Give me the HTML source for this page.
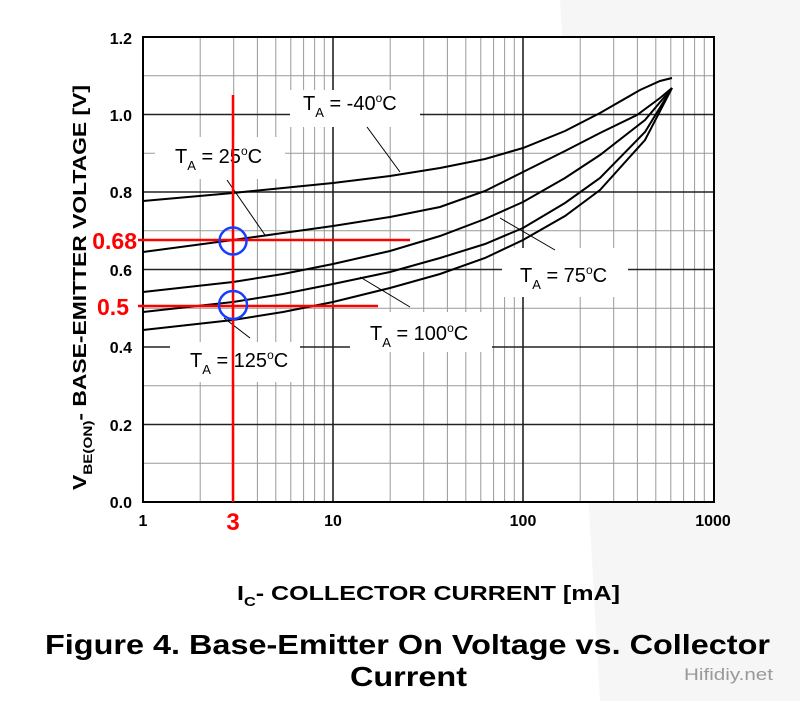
<!DOCTYPE html>
<html><head><meta charset="utf-8"><style>html,body{margin:0;padding:0;background:#fff}svg{display:block}</style></head><body>
<svg width="800" height="701" viewBox="0 0 800 701" xmlns="http://www.w3.org/2000/svg" font-family="Liberation Sans, Arial, sans-serif">
<rect width="800" height="701" fill="#fff"/>
<path d="M560 0 L800 0 L800 701 L600 701 Z" fill="#f6f6f6"/>
<rect x="143" y="37" width="571" height="465" fill="#fff"/>
<g stroke="#999" stroke-width="1">
<line x1="143" y1="75.75" x2="714" y2="75.75"/><line x1="143" y1="153.25" x2="714" y2="153.25"/><line x1="143" y1="230.75" x2="714" y2="230.75"/><line x1="143" y1="308.25" x2="714" y2="308.25"/><line x1="143" y1="385.75" x2="714" y2="385.75"/><line x1="143" y1="463.25" x2="714" y2="463.25"/>
<g id="dec"><line x1="200.2" y1="37" x2="200.2" y2="502"/><line x1="233.7" y1="37" x2="233.7" y2="502"/><line x1="257.4" y1="37" x2="257.4" y2="502"/><line x1="275.8" y1="37" x2="275.8" y2="502"/><line x1="290.8" y1="37" x2="290.8" y2="502"/><line x1="303.6" y1="37" x2="303.6" y2="502"/><line x1="314.6" y1="37" x2="314.6" y2="502"/><line x1="324.3" y1="37" x2="324.3" y2="502"/></g>
<use href="#dec" x="190"/><use href="#dec" x="380"/>
</g>
<g stroke="#222" stroke-width="1.6">
<line x1="143" y1="114.5" x2="714" y2="114.5"/><line x1="143" y1="192" x2="714" y2="192"/><line x1="143" y1="269.5" x2="714" y2="269.5"/><line x1="143" y1="347" x2="714" y2="347"/><line x1="143" y1="424.5" x2="714" y2="424.5"/>
<line x1="333" y1="37" x2="333" y2="502"/><line x1="523" y1="37" x2="523" y2="502"/>
</g>
<rect x="143" y="37" width="571" height="465" fill="none" stroke="#000" stroke-width="2"/>
<g fill="#fff">
<rect x="290" y="90" width="130" height="37"/>
<rect x="155" y="137" width="130" height="42"/>
<rect x="502" y="248" width="126" height="49"/>
<rect x="350" y="312" width="142" height="40"/>
<rect x="170" y="342" width="130" height="40"/>
</g>
<g fill="none" stroke="#000" stroke-width="2">
<polyline points="143,201 188,197 233,193 283,188 333,183 390,176 440,168 485,159 523,148 565,131 600,113 640,90 660,81 672,78"/>
<polyline points="143,252 188,246 233,240 283,233 333,226 390,217 440,207 485,191 523,172 565,151 600,133 637,115 660,98 672,88"/>
<polyline points="143,292 188,287 233,282 283,274 333,264 390,251 440,236 485,219 523,202 565,178 600,155 645,120 672,88"/>
<polyline points="143,312 188,307 233,302 283,294 333,284 390,272 440,258 485,244 523,228 565,203 600,178 645,132 672,88"/>
<polyline points="143,330 188,325 233,320 283,312 333,302 390,288 440,274 485,258 523,240 565,216 600,190 645,140 672,88"/>
</g>
<g stroke="#000" stroke-width="1">
<line x1="367" y1="127" x2="400" y2="172"/><line x1="227" y1="180" x2="265" y2="235"/>
<line x1="555" y1="250" x2="500" y2="218"/><line x1="410" y1="307" x2="360" y2="277"/><line x1="250" y1="338" x2="224" y2="318"/>
</g>
<g font-size="20" fill="#000">
<text x="303" y="110">T<tspan font-size="13" dy="7">A</tspan><tspan dy="-7"> = -40</tspan><tspan font-size="12" dy="-8">o</tspan><tspan dy="8">C</tspan></text>
<text x="175" y="163">T<tspan font-size="13" dy="7">A</tspan><tspan dy="-7"> = 25</tspan><tspan font-size="12" dy="-8">o</tspan><tspan dy="8">C</tspan></text>
<text x="520" y="282">T<tspan font-size="13" dy="7">A</tspan><tspan dy="-7"> = 75</tspan><tspan font-size="12" dy="-8">o</tspan><tspan dy="8">C</tspan></text>
<text x="370" y="340">T<tspan font-size="13" dy="7">A</tspan><tspan dy="-7"> = 100</tspan><tspan font-size="12" dy="-8">o</tspan><tspan dy="8">C</tspan></text>
<text x="190" y="367">T<tspan font-size="13" dy="7">A</tspan><tspan dy="-7"> = 125</tspan><tspan font-size="12" dy="-8">o</tspan><tspan dy="8">C</tspan></text>
</g>
<g stroke="#f00" stroke-width="2.5">
<line x1="233" y1="95" x2="233" y2="502"/>
<line x1="138" y1="240" x2="410" y2="240"/>
<line x1="138" y1="306" x2="378" y2="306"/>
</g>
<g fill="none" stroke="#1a3cff" stroke-width="2.5">
<circle cx="233" cy="241" r="13.5"/><circle cx="233" cy="305" r="14"/>
</g>
<g font-size="16" font-weight="bold" text-anchor="end" fill="#000">
<text x="132" y="44">1.2</text><text x="132" y="121">1.0</text><text x="132" y="198">0.8</text><text x="132" y="276">0.6</text><text x="132" y="353">0.4</text><text x="132" y="431">0.2</text><text x="132" y="508">0.0</text>
</g>
<g font-size="16" font-weight="bold" text-anchor="middle" fill="#000">
<text x="143" y="526">1</text><text x="333" y="526">10</text><text x="523" y="526">100</text><text x="713" y="526">1000</text>
</g>
<text x="233" y="530" font-size="24" font-weight="bold" fill="#f00" text-anchor="middle">3</text>
<text x="137" y="249" font-size="23" font-weight="bold" fill="#f00" text-anchor="end">0.68</text>
<text x="129" y="315" font-size="23" font-weight="bold" fill="#f00" text-anchor="end">0.5</text>
<text transform="translate(86,490) rotate(-90)" font-size="18" font-weight="bold" fill="#000" textLength="405" lengthAdjust="spacingAndGlyphs">V<tspan font-size="12" dy="6">BE(ON)</tspan><tspan dy="-6">- BASE-EMITTER VOLTAGE [V]</tspan></text>
<text x="237" y="600" font-size="20" font-weight="bold" fill="#000" textLength="383" lengthAdjust="spacingAndGlyphs">I<tspan font-size="13" dy="6">C</tspan><tspan dy="-6">- COLLECTOR CURRENT [mA]</tspan></text>
<text x="45" y="654" font-size="28" font-weight="bold" fill="#000" textLength="725" lengthAdjust="spacingAndGlyphs">Figure 4. Base-Emitter On Voltage vs. Collector</text>
<text x="350" y="686" font-size="28" font-weight="bold" fill="#000" textLength="117" lengthAdjust="spacingAndGlyphs">Current</text>
<text x="684" y="680" font-size="17" fill="#999" textLength="89" lengthAdjust="spacingAndGlyphs">Hifidiy.net</text>
</svg>
</body></html>
